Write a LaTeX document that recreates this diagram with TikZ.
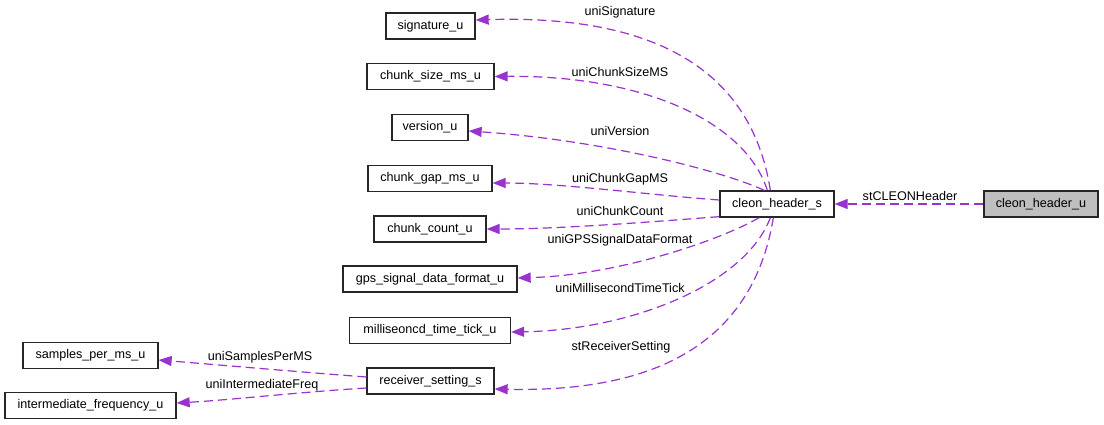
\documentclass[tikz,border=0pt]{standalone}
\usepackage{fontspec}
\setmainfont{Liberation Sans}
\usetikzlibrary{arrows.meta,calc}
\definecolor{edgecol}{HTML}{9A32CD}
\definecolor{hdrfill}{HTML}{BFBFBF}
\tikzset{
  box/.style={draw=black!85, line width=1.3pt, fill=white, inner sep=0pt, minimum height=26pt,
    font=\fontsize{12.6}{15}\selectfont},
  hbox/.style={box, fill=hdrfill},
  edge/.style={draw=edgecol, line width=1.2pt, dash pattern=on 9pt off 5pt,
    -{Triangle[length=13pt,width=10pt]}},
  lbl/.style={inner sep=0pt, font=\fontsize{12.6}{15}\selectfont}
}
\begin{document}
\begin{tikzpicture}[x=1pt,y=-1pt]
\useasboundingbox[fill=white] (0,0) rectangle (1104,425);
% nodes
\node[box, minimum width=89pt]  (sig) at (430.5,26)    {signature\_u};
\node[box, minimum width=127pt] (csz) at (430.5,76.5)  {chunk\_size\_ms\_u};
\node[box, minimum width=76pt]  (ver) at (430,127.5)   {version\_u};
\node[box, minimum width=124pt] (gap) at (430,178.5)   {chunk\_gap\_ms\_u};
\node[box, minimum width=112pt] (cnt) at (430,229)     {chunk\_count\_u};
\node[box, minimum width=174pt] (gps) at (430,279)     {gps\_signal\_data\_format\_u};
\node[box, minimum width=161pt] (mil) at (430,330.5)   {milliseoncd\_time\_tick\_u};
\node[box, minimum width=127pt] (rcv) at (430.5,381)   {receiver\_setting\_s};
\node[box, minimum width=135pt] (sam) at (90.5,355.5)  {samples\_per\_ms\_u};
\node[box, minimum width=171pt] (ifq) at (90.5,405.5)  {intermediate\_frequency\_u};
\node[box, minimum width=114pt] (hs)  at (777,204)     {cleon\_header\_s};
\node[hbox, minimum width=114pt] (hu) at (1041,204)    {cleon\_header\_u};
% edges
\draw[edge] ($(hs.north west)+(51,0)$) .. controls (750,60) and (640,15) .. ($(sig.east)+(0,-6)$);
\draw[edge] ($(hs.north west)+(48,0)$) .. controls (745,120) and (640,75) .. (csz.east);
\draw[edge] ($(hs.north west)+(45,0)$) .. controls (720,170) and (600,140) .. ($(ver.east)+(0,3.5)$);
\draw[edge] ($(hs.west)+(0,-4)$) .. controls (650,195) and (560,183) .. ($(gap.east)+(0,4.5)$);
\draw[edge] ($(hs.south west)+(0,-1)$) .. controls (650,222) and (560,229) .. (cnt.east);
\draw[edge] ($(hs.south west)+(40,0)$) .. controls (720,240) and (620,275) .. ($(gps.east)+(0,-1)$);
\draw[edge] ($(hs.south west)+(51,0)$) .. controls (745,285) and (630,330) .. ($(mil.east)+(0,1.5)$);
\draw[edge] ($(hs.south west)+(54,0)$) .. controls (750,360) and (630,392) .. ($(rcv.east)+(0,8)$);
\draw[edge] ($(rcv.west)+(0,-4)$) .. controls (300,372) and (220,365) .. ($(sam.east)+(0,4.5)$);
\draw[edge] ($(rcv.west)+(0,7)$) .. controls (300,392) and (230,400) .. ($(ifq.east)+(0,-2.5)$);
\draw[edge] (hu.west) -- (hs.east);
% labels
\node[lbl] (l1) at (620,12)  {uniSignature};
\node[lbl] (l2) at (620,72)  {uniChunkSizeMS};
\node[lbl] (l3) at (620,131) {uniVersion};
\node[lbl] (l4) at (620,179) {uniChunkGapMS};
\node[lbl] (l5) at (620,211) {uniChunkCount};
\node[lbl] (l6) at (620,240) {uniGPSSignalDataFormat};
\node[lbl] (l7) at (620,288) {uniMillisecondTimeTick};
\node[lbl] (l8) at (621,347) {stReceiverSetting};
\node[lbl] (l9) at (910,196) {stCLEONHeader};
\node[lbl] (l10) at (260,357) {uniSamplesPerMS};
\node[lbl] (l11) at (262,385) {uniIntermediateFreq};
\end{tikzpicture}
\end{document}
